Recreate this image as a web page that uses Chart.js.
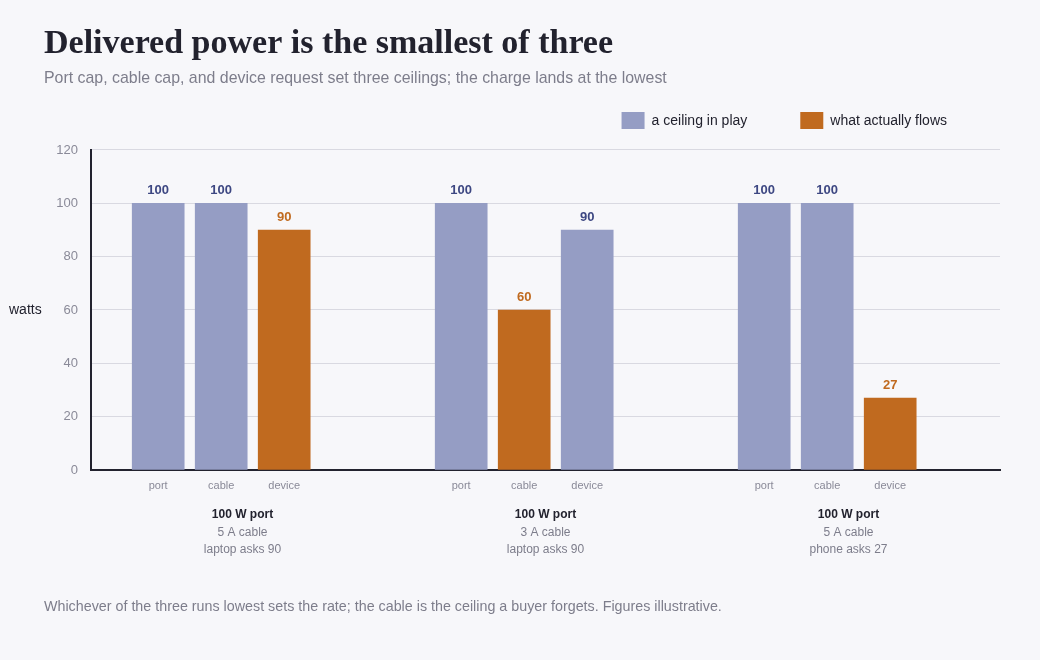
<!DOCTYPE html>
<html><head><meta charset="utf-8">
<script src="https://cdn.jsdelivr.net/npm/chart.js@4.4.0/dist/chart.umd.min.js"></script>
<style>html,body{margin:0;padding:0;background:#f7f7fa;}canvas{display:block}</style>
</head><body><canvas id="c" width="1040" height="660"></canvas>
<script>
// ---- data ----
const groupTitles = ["100 W port", "100 W port", "100 W port"];
const groupDetails = [["5 A cable", "laptop asks 90"], ["3 A cable", "laptop asks 90"], ["5 A cable", "phone asks 27"]];
const ceilingNames = ["port", "cable", "device"];
const portCap = [100, 100, 100];
const cableCap = [100, 60, 100];
const deviceAsk = [90, 90, 27];
const yTickValues = [0, 20, 40, 60, 80, 100, 120];
const legendNames = ["a ceiling in play", "what actually flows"];

const series = [portCap, cableCap, deviceAsk];
const delivered = portCap.map((v, g) => Math.min(portCap[g], cableCap[g], deviceAsk[g]));

// ---- style / layout ----
const PURPLE = '#959dc4', ORANGE = '#c06a1f', NAVY = '#3d4782';
const DARK = '#22222e', GRAY = '#7d7d8b', TICKGRAY = '#8a8a98', GRID = '#d9d9e1';
const SANS = '"Liberation Sans", Arial, sans-serif';
const STEP = 63 / 303, SHIFT = -21.3 / 303;
const barPos = (g, k) => g + (k - 1) * STEP + SHIFT;
const allPos = [];
groupTitles.forEach((t, g) => ceilingNames.forEach((n, k) => allPos.push(barPos(g, k))));
Chart.defaults.font.family = SANS;

const isLowest = (k, g) => series[k][g] === delivered[g];

const datasets = ceilingNames.map((name, k) => ({
  label: name,
  data: series[k].map((v, g) => ({ x: barPos(g, k), y: v })),
  backgroundColor: ctx => isLowest(k, ctx.dataIndex) ? ORANGE : PURPLE,
  barThickness: 52, maxBarThickness: 52, grouped: false, borderWidth: 0
}));

const extras = {
  id: 'extras',
  afterDatasetsDraw(chart) {
    const ctx = chart.ctx;
    ctx.save();
    ctx.font = 'bold 13px ' + SANS;
    ctx.textAlign = 'center'; ctx.textBaseline = 'middle';
    chart.data.datasets.forEach((ds, k) => {
      chart.getDatasetMeta(k).data.forEach((bar, g) => {
        ctx.fillStyle = isLowest(k, g) ? ORANGE : NAVY;
        ctx.fillText(String(series[k][g]), bar.x, bar.y - 13);
      });
    });
    ctx.restore();
  },
  afterDraw(chart) {
    const ctx = chart.ctx, ca = chart.chartArea;
    ctx.save();
    // y axis title
    ctx.font = '14px ' + SANS; ctx.fillStyle = DARK;
    ctx.textAlign = 'left'; ctx.textBaseline = 'middle';
    ctx.fillText('watts', 9, (ca.top + ca.bottom) / 2);
    // legend
    const colors = [PURPLE, ORANGE];
    const widths = legendNames.map(t => 23 + 7 + ctx.measureText(t).width);
    const gap = 53;
    let x = ca.right - widths.reduce((a, b) => a + b + gap, 0);
    legendNames.forEach((t, i) => {
      ctx.fillStyle = colors[i];
      ctx.fillRect(x, 112, 23, 17);
      ctx.fillStyle = DARK;
      ctx.fillText(t, x + 30, 121);
      x += widths[i] + gap;
    });
    // footnote
    ctx.font = '14.3px ' + SANS;
    ctx.fillStyle = GRAY;
    ctx.fillText('Whichever of the three runs lowest sets the rate; the cable is the ceiling a buyer forgets. Figures illustrative.', 44, 607);
    ctx.restore();
  }
};

const linearBottom = (ticksFn, labelFn, font, color, padding, border, noClip) => ({
  type: 'linear', position: 'bottom', min: -0.5, max: 2.5, offset: false,
  afterBuildTicks: s => { s.ticks = ticksFn().map(v => ({ value: v })); },
  afterFit: s => { if (noClip) s._computeLabelArea = () => undefined; },
  ticks: { callback: (v, i) => labelFn(i), autoSkip: false, maxRotation: 0, font, color, padding },
  grid: { display: false, drawTicks: false, offset: false },
  border: border
});

new Chart(document.getElementById('c'), {
  type: 'bar',
  data: { datasets },
  plugins: [extras],
  options: {
    responsive: false, animation: false, devicePixelRatio: 1,
    layout: { padding: { left: 44, right: 40, top: 0, bottom: 104.4 } },
    plugins: {
      legend: { display: false },
      tooltip: { enabled: false },
      title: {
        display: true, text: 'Delivered power is the smallest of three', align: 'start', color: DARK,
        font: { family: '"Liberation Serif", serif', size: 34, weight: 'bold' }, padding: { top: 24.1, bottom: 0 }
      },
      subtitle: {
        display: true, text: 'Port cap, cable cap, and device request set three ceilings; the charge lands at the lowest',
        align: 'start', color: GRAY, font: { size: 15.9 }, padding: { top: 4.5, bottom: 61.5 }
      }
    },
    scales: {
      x: linearBottom(() => allPos, i => ceilingNames[i % 3], { size: 11 }, TICKGRAY, 9,
        { display: true, color: DARK, width: 2 }),
      xg: linearBottom(() => groupTitles.map((t, i) => i), i => groupTitles[i], { size: 12, weight: 'bold' }, DARK, 6,
        { display: false }),
      xd: linearBottom(() => groupTitles.map((t, i) => i), i => groupDetails[i], { size: 12, lineHeight: 17 / 12 }, GRAY, -3,
        { display: false }, true),
      y: {
        min: 0, max: 120,
        afterBuildTicks: s => { s.ticks = yTickValues.map(v => ({ value: v })); },
        afterFit: s => { s.width = 47; },
        ticks: { font: { size: 13 }, color: TICKGRAY, padding: 13 },
        grid: { color: GRID, drawTicks: false },
        border: { display: true, color: DARK, width: 2 }
      }
    }
  }
});
</script></body></html>
